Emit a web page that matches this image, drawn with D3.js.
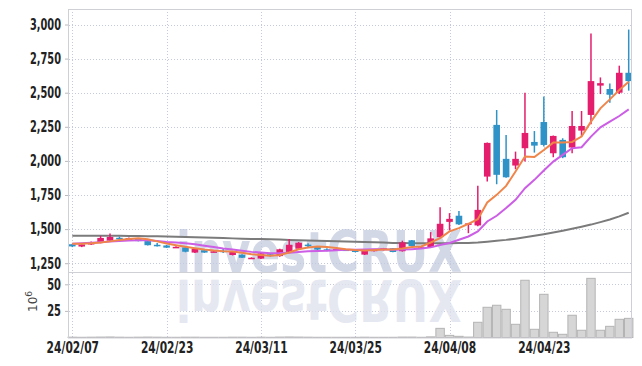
<!DOCTYPE html>
<html>
<head>
<meta charset="utf-8">
<script src="https://cdn.jsdelivr.net/npm/d3@7"></script>
<style>
  body { margin: 0; background: #fff; }
  .tick text { font-family: "DejaVu Sans Condensed", "DejaVu Sans", sans-serif; font-size: 15px; font-weight: 600; fill: #222; }
</style>
</head>
<body>
<div id="chart"></div>
<script>
var dates = ['24/02/07','24/02/08','24/02/13','24/02/14','24/02/15','24/02/16','24/02/19','24/02/20','24/02/21','24/02/22',
    '24/02/23','24/02/26','24/02/27','24/02/28','24/02/29','24/03/04','24/03/05','24/03/06','24/03/07','24/03/08',
    '24/03/11','24/03/12','24/03/13','24/03/14','24/03/15','24/03/18','24/03/19','24/03/20','24/03/21','24/03/22',
    '24/03/25','24/03/26','24/03/27','24/03/28','24/03/29','24/04/01','24/04/02','24/04/03','24/04/04','24/04/05',
    '24/04/08','24/04/09','24/04/11','24/04/12','24/04/15','24/04/16','24/04/17','24/04/18','24/04/19','24/04/22',
    '24/04/23','24/04/24','24/04/25','24/04/26','24/04/29','24/04/30','24/05/02','24/05/03','24/05/07','24/05/08'];

var open = [1389,1372,1393,1398,1415,1436,1415,1432,1412,1385, 1380,1366,1366,1328,1345,1332,1342,1310,1312,1284,
    1284,1315,1302,1333,1356,1386,1370,1352,1347,1350, 1350,1313,1338,1346,1360,1338,1418,1358,1368,1441,
    1553,1598,1536,1527,1885,2264,2015,1966,2093,2139, 2285,2056,2154,2098,2222,2337,2552,2527,2500,2646];
var high = [1392,1392,1410,1450,1468,1445,1438,1434,1414,1398, 1384,1375,1368,1360,1348,1340,1355,1335,1315,1293,
    1327,1318,1356,1427,1405,1396,1372,1360,1356,1353, 1352,1343,1355,1362,1362,1415,1420,1370,1478,1661,
    1617,1632,1545,1817,2135,2373,2190,2068,2500,2219, 2473,2186,2166,2366,2366,2934,2612,2568,2698,2963];
var low = [1368,1368,1383,1396,1412,1420,1412,1410,1380,1372, 1362,1363,1330,1325,1326,1330,1325,1307,1288,1282,
    1280,1298,1298,1330,1352,1368,1346,1338,1345,1344, 1330,1310,1336,1344,1330,1335,1374,1355,1365,1438,
    1490,1530,1470,1520,1849,1829,1876,1939,1995,2061, 2105,2027,2020,2056,2178,2268,2490,2427,2490,2515];
var close = [1373,1388,1398,1435,1442,1428,1434,1412,1382,1374, 1364,1370,1334,1356,1328,1337,1337,1332,1290,1290,
    1322,1302,1352,1385,1400,1376,1350,1348,1354,1347, 1332,1341,1353,1360,1332,1402,1376,1366,1432,1539,
    1575,1535,1542,1641,2132,1898,1880,2015,2205,2112, 2117,2183,2027,2256,2256,2585,2570,2485,2646,2585];

// moving averages
var ma5 = [1392,1393,1396,1402,1410,1420,1428,1432,1425,1410, 1395,1382,1370,1360,1350,1343,1338,1335,1326,1316,
    1310,1305,1310,1328,1352,1365,1372,1368,1362,1352, 1347,1344,1346,1350,1350,1358,1368,1373,1402,1434,
    1483,1507,1539,1573,1695,1751,1817,1922,2032,2029, 2080,2134,2134,2139,2178,2288,2385,2451,2520,2580];
var ma10 = [1393,1396,1400,1404,1409,1413,1417,1419,1418,1412, 1406,1402,1396,1389,1378,1368,1358,1350,1341,1333,
    1328,1323,1324,1327,1333,1337,1339,1341,1345,1348, 1349,1351,1352,1352,1348,1350,1353,1357,1366,1383,
    1398,1422,1446,1483,1556,1598,1654,1715,1800,1861, 1929,1995,2044,2093,2100,2178,2246,2288,2329,2378];
var maLong = [1452,1452,1452,1452,1452,1451,1450,1449,1448,1447, 1446,1444,1442,1440,1438,1436,1434,1432,1430,1428,
    1427,1425,1423,1421,1419,1417,1415,1413,1411,1409, 1407,1405,1403,1401,1399,1398,1397,1396,1396,1396,
    1397,1398,1399,1401,1408,1414,1421,1430,1440,1451, 1463,1475,1488,1502,1517,1533,1551,1570,1593,1620];

// volume in millions
var volume = [0.3,0.2,0.3,0.4,0.5,0.3,0.2,0.3,0.4,0.3, 0.2,0.2,0.3,0.3,0.2,0.2,0.2,0.3,0.3,0.2,
    0.3,0.2,0.4,0.5,0.4,0.3,0.2,0.2,0.2,0.2, 0.2,0.3,0.2,0.2,0.2,0.4,0.4,0.2,0.6,8.6,
    2.0,1.1,0.4,14.3,28.4,30.3,26.5,12.4,53.8,7.7, 40.6,4.9,3.0,20.9,6.8,55.6,6.8,10.5,17.1,18.0];

var priceTicks = [1250,1500,1750,2000,2250,2500,2750,3000];
var volTicks = [25, 50];
var dateTicks = [0, 10, 20, 30, 40, 50];

var width = 642, height = 366;
var plotLeft = 69, plotRight = 632, plotTop = 9, split = 272, plotBottom = 337.5;

var svg = d3.select('#chart').append('svg')
    .attr('width', width)
    .attr('height', height);

var xScale = d3.scaleLinear().domain([0, dates.length - 1]).range([72.3, 628.7]);
var yScale = d3.scaleLinear().domain([1250, 3000]).range([263.2, 24.5]);
var vScale = d3.scaleLinear().domain([0, 50]).range([plotBottom, 284.3]);
var step = xScale(1) - xScale(0);

svg.append('defs').append('clipPath').attr('id', 'pclip')
    .append('rect').attr('x', plotLeft).attr('y', plotTop)
    .attr('width', plotRight - plotLeft).attr('height', split - plotTop);

// grid
var grid = svg.append('g').attr('stroke', '#c4c9dd').attr('stroke-dasharray', '1,2');
grid.selectAll('line.h').data(priceTicks).enter().append('line')
    .attr('x1', plotLeft).attr('x2', plotRight)
    .attr('y1', function (d) { return Math.round(yScale(d)) + 0.5; })
    .attr('y2', function (d) { return Math.round(yScale(d)) + 0.5; });
grid.selectAll('line.v').data(volTicks).enter().append('line')
    .attr('x1', plotLeft).attr('x2', plotRight)
    .attr('y1', function (d) { return Math.round(vScale(d)) + 0.5; })
    .attr('y2', function (d) { return Math.round(vScale(d)) + 0.5; });
grid.selectAll('line.d').data(dateTicks).enter().append('line')
    .attr('x1', function (d) { return Math.round(xScale(d)) + 0.5; })
    .attr('x2', function (d) { return Math.round(xScale(d)) + 0.5; })
    .attr('y1', plotTop).attr('y2', plotBottom);

// watermark and its reflection
svg.append('text')
    .attr('x', 176).attr('y', 272)
    .attr('textLength', 286).attr('lengthAdjust', 'spacingAndGlyphs')
    .style('font-family', 'DejaVu Sans').style('font-weight', 'bold').style('font-size', '57px')
    .attr('fill', '#c3cadf').attr('opacity', 0.72)
    .text('investCRUX');
svg.append('text')
    .attr('transform', 'translate(0,552) scale(1,-1)')
    .attr('x', 176).attr('y', 272)
    .attr('textLength', 286).attr('lengthAdjust', 'spacingAndGlyphs')
    .style('font-family', 'DejaVu Sans').style('font-weight', 'bold').style('font-size', '57px')
    .attr('fill', '#dfe3ee').attr('opacity', 0.8)
    .text('investCRUX');

// volume bars
svg.append('g').selectAll('rect').data(volume).enter().append('rect')
    .attr('x', function (d, i) { return xScale(i) - step / 2 + 0.5; })
    .attr('width', step - 1)
    .attr('y', function (d) { return vScale(d); })
    .attr('height', function (d) { return plotBottom - vScale(d); })
    .attr('fill', '#d6d6d6')
    .attr('stroke', '#b4b4b4')
    .attr('stroke-width', 1);

// moving averages
var plot = svg.append('g').attr('clip-path', 'url(#pclip)');
var line = d3.line()
    .x(function (d, i) { return xScale(i); })
    .y(function (d) { return yScale(d); });

plot.append('path').datum(maLong).attr('d', line)
    .attr('fill', 'none').attr('stroke', '#7b7b7b').attr('stroke-width', 2);

// candles
var up = '#e41d6c', down = '#2f93c8';
var candles = plot.selectAll('g.candle').data(close).enter().append('g');
candles.append('line')
    .attr('x1', function (d, i) { return xScale(i); })
    .attr('x2', function (d, i) { return xScale(i); })
    .attr('y1', function (d, i) { return yScale(high[i]); })
    .attr('y2', function (d, i) { return yScale(low[i]); })
    .attr('stroke', function (d, i) { return d >= open[i] ? up : down; })
    .attr('stroke-width', 1.5);
candles.append('rect')
    .attr('x', function (d, i) { return xScale(i) - 3.3; })
    .attr('width', 6.6)
    .attr('y', function (d, i) { return yScale(Math.max(d, open[i])); })
    .attr('height', function (d, i) { return Math.max(1.5, Math.abs(yScale(d) - yScale(open[i]))); })
    .attr('fill', function (d, i) { return d >= open[i] ? up : down; });

plot.append('path').datum(ma10).attr('d', line)
    .attr('fill', 'none').attr('stroke', '#cc5ee6').attr('stroke-width', 2);
plot.append('path').datum(ma5).attr('d', line)
    .attr('fill', 'none').attr('stroke', '#f0854a').attr('stroke-width', 2);

// frame
var frame = svg.append('g').attr('stroke', '#cfcfd6').attr('fill', 'none');
frame.append('line').attr('x1', plotLeft).attr('x2', plotRight).attr('y1', plotTop + 0.5).attr('y2', plotTop + 0.5);
frame.append('line').attr('x1', plotRight - 0.5).attr('x2', plotRight - 0.5).attr('y1', plotTop).attr('y2', plotBottom);
frame.append('line').attr('x1', plotLeft).attr('x2', plotRight).attr('y1', split + 0.5).attr('y2', split + 0.5);
frame.append('line').attr('x1', plotLeft).attr('x2', plotRight).attr('y1', plotBottom + 0.5).attr('y2', plotBottom + 0.5);
frame.append('line').attr('x1', plotLeft - 0.5).attr('x2', plotLeft - 0.5).attr('y1', plotTop).attr('y2', plotBottom + 1);

// label widths fitted to the narrow face of the original
var labelWidth = function (s) {
    var w = 0;
    for (var k = 0; k < s.length; k++) {
        w += s[k] === ',' ? 3.4 : s[k] === '/' ? 5.5 : 6.9;
    }
    return w;
};
var squeeze = function (g) {
    g.selectAll('.tick text')
        .attr('textLength', function () { return labelWidth(this.textContent); })
        .attr('lengthAdjust', 'spacingAndGlyphs');
};

// axes
var yAxis = d3.axisLeft(yScale).tickValues(priceTicks).tickFormat(d3.format(',')).tickSize(3).tickPadding(4);
svg.append('g').attr('transform', 'translate(' + (plotLeft - 1) + ',0)').call(yAxis)
    .call(function (g) { g.select('.domain').remove(); })
    .call(function (g) { g.selectAll('.tick line').attr('stroke', '#bbb'); })
    .call(squeeze);

var vAxis = d3.axisLeft(vScale).tickValues(volTicks).tickSize(3).tickPadding(4);
svg.append('g').attr('transform', 'translate(' + (plotLeft - 1) + ',0)').call(vAxis)
    .call(function (g) { g.select('.domain').remove(); })
    .call(function (g) { g.selectAll('.tick line').attr('stroke', '#bbb'); })
    .call(squeeze);

var xAxis = d3.axisBottom(xScale).tickValues(dateTicks)
    .tickFormat(function (i) { return dates[i]; }).tickSize(0).tickPadding(5);
svg.append('g').attr('transform', 'translate(0,' + plotBottom + ')').call(xAxis)
    .call(function (g) { g.select('.domain').remove(); })
    .call(squeeze);

// volume unit label
var unit = svg.append('text')
    .attr('transform', 'translate(37,312) rotate(-90)')
    .style('font-family', 'DejaVu Sans').style('font-size', '12px').attr('fill', '#444');
unit.append('tspan').text('10');
unit.append('tspan').attr('dy', -5).style('font-size', '9px').text('6');
</script>
</body>
</html>
